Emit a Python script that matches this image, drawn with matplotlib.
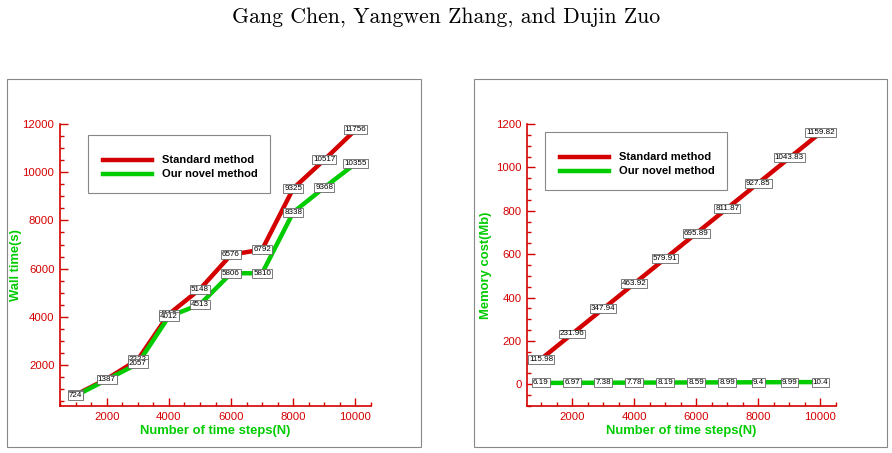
import matplotlib.pyplot as plt
from matplotlib.patches import Rectangle
from matplotlib.ticker import MultipleLocator

RED = "#d40000"
GREEN = "#00cc00"

steps = [1000, 2000, 3000, 4000, 5000, 6000, 7000, 8000, 9000, 10000]

# wall time (s)
time_standard = [760, 1420, 2222, 4112, 5148, 6576, 6792, 9325, 10517, 11756]
time_novel = [724, 1387, 2057, 4012, 4513, 5806, 5810, 8338, 9368, 10355]

# memory cost (Mb)
mem_standard = [115.98, 231.96, 347.94, 463.92, 579.91, 695.89, 811.87, 927.85, 1043.83, 1159.82]
mem_novel = [6.19, 6.97, 7.38, 7.78, 8.19, 8.59, 8.99, 9.4, 9.99, 10.4]
mem_novel_txt = ["6.19", "6.97", "7.38", "7.78", "8.19", "8.59", "8.99", "9.4", "9.99", "10.4"]

plt.rcParams['font.family'] = ['Liberation Sans', 'DejaVu Sans']

fig = plt.figure(figsize=(8.92, 4.53), dpi=100)
W, H = 892.0, 453.0

fig.text(0.5, 1 - 17 / H, "Gang Chen, Yangwen Zhang, and Dujin Zuo",
         ha="center", va="center", fontsize=15.7, family="cmr10")

# panel frames
for x0, x1 in [(7, 421), (474, 887)]:
    fig.add_artist(Rectangle((x0 / W, 1 - 447 / H), (x1 - x0) / W, (447 - 79) / H,
                             transform=fig.transFigure, fill=False,
                             edgecolor="#888888", linewidth=0.8))


def label_box(ax, x, y, txt):
    ax.text(x, y, txt, ha="center", va="center", fontsize=5.8, color="black",
            bbox=dict(boxstyle="square,pad=0.12", fc="white", ec="#666666", lw=0.6),
            zorder=5)


def setup(ax, ylabel, ymaj, ymin, ylab_x):
    for s in ["top", "right"]:
        ax.spines[s].set_visible(False)
    for s in ["left", "bottom"]:
        ax.spines[s].set_color(RED)
        ax.spines[s].set_linewidth(1.2)
    ax.xaxis.set_major_locator(MultipleLocator(2000))
    ax.xaxis.set_minor_locator(MultipleLocator(500))
    ax.yaxis.set_major_locator(MultipleLocator(ymaj))
    ax.yaxis.set_minor_locator(MultipleLocator(ymin))
    ax.tick_params(which="both", direction="in", colors=RED, labelcolor=RED,
                   labelsize=8.2, width=1)
    ax.tick_params(which="major", length=6, pad=4)
    ax.tick_params(which="minor", length=3)
    ax.set_xlabel("Number of time steps(N)", color=GREEN, fontweight="bold",
                  fontsize=9.4)
    ax.set_ylabel(ylabel, color=GREEN, fontweight="bold", fontsize=9.4)
    ax.xaxis.set_label_coords(0.5, -(425 - 406) / 282)
    ax.yaxis.set_label_coords(ylab_x, 0.5)


def legend_box(ax, x0, y0, x1, y1):
    # x0..y1 in figure pixels
    fig.add_artist(Rectangle((x0 / W, 1 - y1 / H), (x1 - x0) / W, (y1 - y0) / H,
                             transform=fig.transFigure, fill=True, fc="white",
                             edgecolor="#888888", linewidth=0.8, zorder=6))
    for dy, col, name in [(25, RED, "Standard method"), (39, GREEN, "Our novel method")]:
        yy = 1 - (y0 + dy) / H
        fig.add_artist(plt.Line2D([(x0 + 15) / W, (x0 + 64) / W], [yy, yy],
                                  transform=fig.transFigure, color=col, lw=3.2, zorder=7))
        fig.text((x0 + 74) / W, yy, name, ha="left", va="center", fontsize=8,
                 fontweight="bold", zorder=7)


# left panel: wall time
ax1 = fig.add_axes([60 / W, 47 / H, 311 / W, 282 / H])
ax1.plot(steps, time_standard, color=RED, lw=3.2, zorder=2)
ax1.plot(steps, time_novel, color=GREEN, lw=3.2, zorder=3)
ax1.set_xlim(500, 10500)
ax1.set_ylim(300, 12000)
setup(ax1, "Wall time(s)", 2000, 500, -(60 - 22) / 311)
for x, y in zip(steps, time_standard):
    label_box(ax1, x, y, str(y))
for x, y in zip(steps, time_novel):
    label_box(ax1, x, y, str(y))
legend_box(ax1, 88, 135, 270, 193)

# right panel: memory cost
ax2 = fig.add_axes([527 / W, 47 / H, 309 / W, 282 / H])
ax2.plot(steps, mem_standard, color=RED, lw=3.2, zorder=2)
ax2.plot(steps, mem_novel, color=GREEN, lw=3.2, zorder=3)
ax2.set_xlim(550, 10500)
ax2.set_ylim(-100, 1200)
setup(ax2, "Memory cost(Mb)", 200, 50, -(527 - 492) / 309)
for x, y in zip(steps, mem_standard):
    label_box(ax2, x, y, f"{y:.2f}")
for x, y, t in zip(steps, mem_novel, mem_novel_txt):
    label_box(ax2, x, y, t)
legend_box(ax2, 545, 132, 727, 190)

fig.savefig("out.png", dpi=100)
